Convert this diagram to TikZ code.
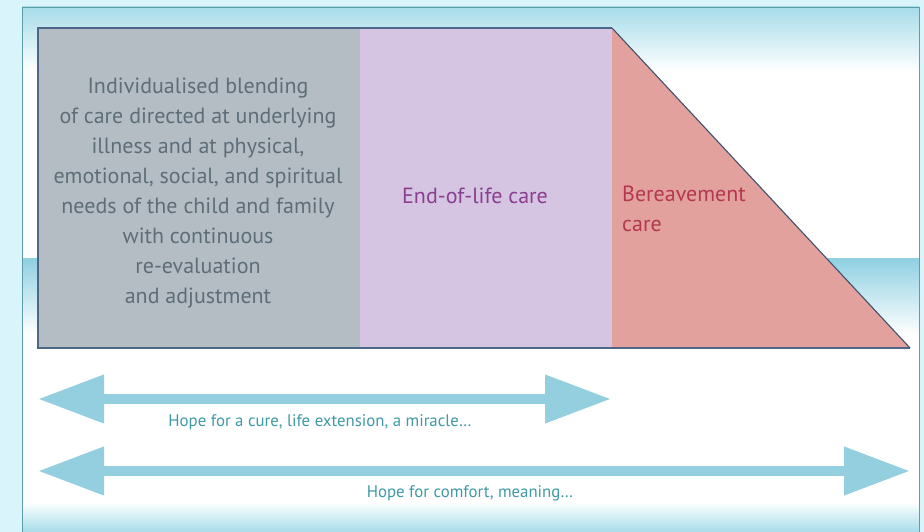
\documentclass[tikz,border=0pt]{standalone}
\usepackage{fontspec}
\setmainfont{PT Sans}
\usetikzlibrary{arrows.meta}
\definecolor{outerbg}{HTML}{D9F4FB}
\definecolor{skycyan}{HTML}{A6DCE9}
\definecolor{horizon}{HTML}{8FD0E2}
\definecolor{frameline}{HTML}{5AA0A6}
\definecolor{shapeline}{HTML}{4E6688}
\definecolor{greyfill}{HTML}{B5BDC4}
\definecolor{lilacfill}{HTML}{D5C5E3}
\definecolor{rosefill}{HTML}{E3A19E}
\definecolor{greytext}{HTML}{5E6E79}
\definecolor{lilactext}{HTML}{8A3F8F}
\definecolor{rosetext}{HTML}{B4384F}
\definecolor{arrowblue}{HTML}{94CFE0}
\definecolor{hopetext}{HTML}{3F9AA6}
\tikzset{
  phasetext/.style={inner sep=0pt, font=\fontsize{22}{30}\selectfont},
  hopearrow/.style={draw=arrowblue, line width=10.5pt,
    {Triangle[length=66pt,width=46pt]}-{Triangle[length=66pt,width=46pt]}},
  hopelabel/.style={inner sep=0pt, text=hopetext, font=\fontsize{16.8}{20}\selectfont}
}
\begin{document}
\begin{tikzpicture}[x=1pt,y=-1pt]
\useasboundingbox (0,0) rectangle (924,532);
% outer backdrop and panel
\fill[outerbg] (0,0) rectangle (924,532);
\fill[white] (22,7) rectangle (919,532);
\shade[top color=skycyan, bottom color=white] (22,7) rectangle (919,72);
\shade[top color=horizon, bottom color=white] (22,258) rectangle (919,335);
\shade[top color=white, bottom color=skycyan] (22,502) rectangle (919,532);
\fill[white, opacity=0.6] (23,72) rectangle (34,258);
\draw[frameline, line width=0.8pt] (22,532) -- (22,7) -- (919,7) -- (919,532);
% phase blocks
\coordinate (tl) at (38,28);
\coordinate (gm) at (360,28);
\coordinate (pm) at (612,28);
\coordinate (bl) at (38,348);
\coordinate (gb) at (360,348);
\coordinate (pb) at (612,348);
\coordinate (br) at (910,348);
\fill[greyfill] (tl) rectangle (gb);
\fill[lilacfill] (gm) rectangle (pb);
\fill[rosefill] (pm) -- (br) -- (pb) -- cycle;
\draw[shapeline, line width=1.4pt, line join=miter] (pm) -- (tl) -- (bl) -- (br);
\draw[shapeline!80!black, line width=1.1pt] (pm) -- (br);
% phase labels
\node[phasetext, text=greytext, align=center] (care) at (198,193)
  {Individualised blending\\ of care directed at underlying\\ illness and at physical,\\
   emotional, social, and spiritual\\ needs of the child and family\\ with continuous\\
   re-evaluation\\ and adjustment};
\node[phasetext, text=lilactext, anchor=west] (eol) at (402,196) {End-of-life care};
\node[phasetext, text=rosetext, align=left, anchor=north west] (bereave) at (622,186)
  {Bereavement\\ care};
% hope arrows
\coordinate (h1l) at (38,399);
\coordinate (h1r) at (611,399);
\coordinate (h2l) at (38,471);
\coordinate (h2r) at (910,471);
\draw[hopearrow] (h1l) -- (h1r);
\draw[hopearrow] (h2l) -- (h2r);
\node[hopelabel] (cure) at (320,422) {Hope for a cure, life extension, a miracle\dots};
\node[hopelabel] (comfort) at (470,493) {Hope for comfort, meaning\dots};
\end{tikzpicture}
\end{document}
